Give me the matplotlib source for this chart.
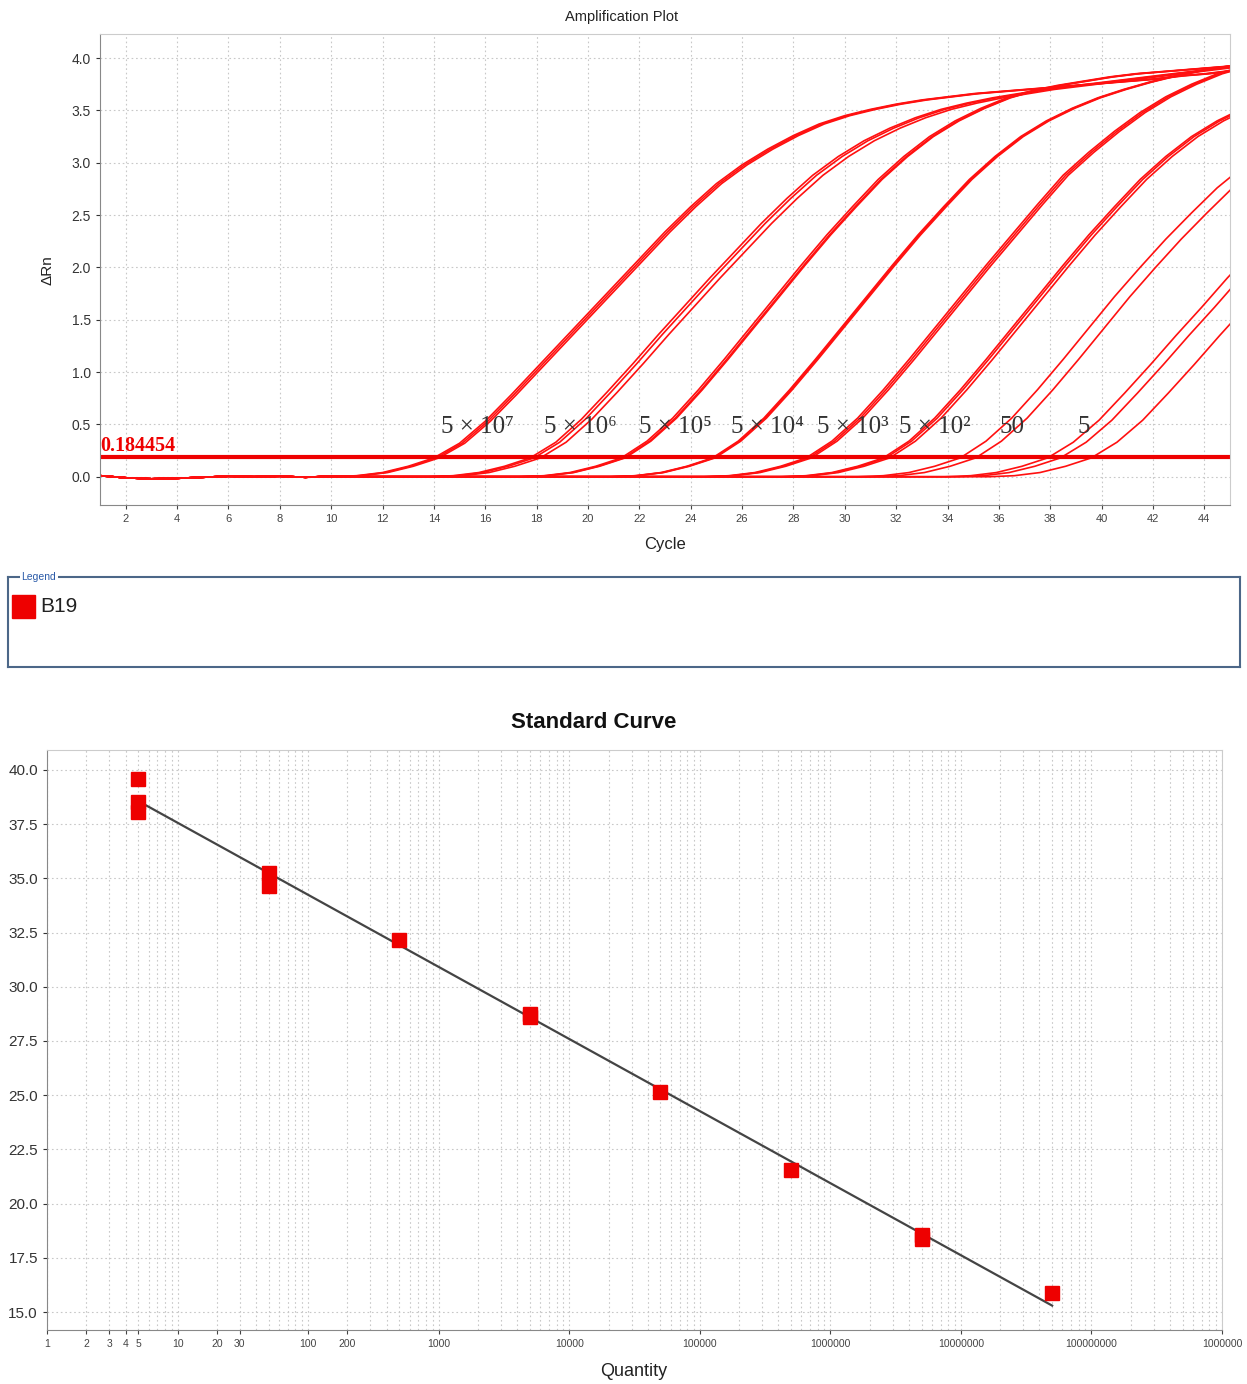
import matplotlib.pyplot as plt
import numpy as np
from matplotlib.patches import Rectangle

plt.rcParams['font.family'] = ['Liberation Sans', 'DejaVu Sans']

# ---- amplification plot data (ΔRn read per cycle) ----
baseline = [0.01, -0.01, -0.02, -0.015, -0.005, 0.005, 0.0, 0.005, -0.005, 0.005, 0.0, 0.0]  # cycles 1..12

group_labels = ['5 × 10⁷', '5 × 10⁶', '5 × 10⁵', '5 × 10⁴', '5 × 10³', '5 × 10²', '50', '5']
label_cycle = [15.7, 19.7, 23.4, 27.0, 30.3, 33.5, 36.5, 39.3]
group_start = [10, 13, 17, 20, 24, 27, 30, 33]  # first cycle of each rise list
group_shift = [[0.0, 0.1, 0.2], [0.75, 0.9, 1.15], [0.3, 0.4, 0.45], [0.85, 0.9, 0.95],
               [0.5, 0.6, 0.7], [0.5, 0.6, 0.75], [0.5, 1.1], [0.9, 1.4, 2.6]]

rise_5e7 = [0.00, 0.01, 0.04, 0.10, 0.18, 0.32, 0.53, 0.78, 1.04, 1.30, 1.56, 1.82, 2.08, 2.34,
            2.58, 2.80, 2.98, 3.13, 3.26, 3.37, 3.45, 3.51, 3.56, 3.60, 3.63, 3.66, 3.68, 3.70,
            3.72, 3.74, 3.76, 3.78, 3.80, 3.83, 3.85, 3.88]
rise_5e6 = [0.00, 0.01, 0.04, 0.10, 0.18, 0.33, 0.55, 0.81, 1.08, 1.36, 1.63, 1.90, 2.16, 2.42,
            2.66, 2.88, 3.06, 3.21, 3.33, 3.43, 3.51, 3.57, 3.62, 3.66, 3.70, 3.73, 3.76, 3.79,
            3.82, 3.85, 3.88, 3.91, 3.94]
rise_5e5 = [0.00, 0.01, 0.04, 0.10, 0.18, 0.34, 0.56, 0.83, 1.12, 1.42, 1.72, 2.02, 2.31, 2.58,
            2.84, 3.06, 3.25, 3.40, 3.52, 3.62, 3.69, 3.74, 3.78, 3.82, 3.85, 3.87, 3.89, 3.91, 3.93]
rise_5e4 = [0.00, 0.01, 0.04, 0.10, 0.18, 0.34, 0.56, 0.83, 1.12, 1.42, 1.72, 2.02, 2.31, 2.58,
            2.84, 3.06, 3.25, 3.40, 3.52, 3.62, 3.70, 3.77, 3.83, 3.88, 3.92, 3.95]
rise_5e3 = [0.00, 0.01, 0.04, 0.10, 0.18, 0.34, 0.56, 0.83, 1.12, 1.42, 1.72, 2.02, 2.31, 2.60,
            2.88, 3.10, 3.30, 3.48, 3.63, 3.75, 3.85, 3.92]
rise_5e2 = [0.00, 0.01, 0.04, 0.10, 0.18, 0.34, 0.56, 0.83, 1.12, 1.42, 1.72, 2.02, 2.31, 2.58,
            2.84, 3.06, 3.25, 3.40, 3.52]
rise_50 = [0.00, 0.01, 0.04, 0.10, 0.18, 0.34, 0.56, 0.83, 1.12, 1.42, 1.72, 2.00, 2.27, 2.52,
           2.76, 2.96]
rise_5 = [0.00, 0.01, 0.04, 0.10, 0.18, 0.33, 0.54, 0.80, 1.07, 1.35, 1.62, 1.90, 2.16]
rises = [rise_5e7, rise_5e6, rise_5e5, rise_5e4, rise_5e3, rise_5e2, rise_50, rise_5]

threshold = 0.184454

# ---- standard curve data ----
quantity = [5, 5, 5, 50, 50, 500, 5000, 5000, 5e4, 5e5, 5e6, 5e6, 5e7]
ct = [39.6, 38.5, 38.05, 35.25, 34.65, 32.15, 28.75, 28.6, 25.15, 21.55, 18.55, 18.35, 15.88]
qty_ticks = [1, 2, 3, 4, 5, 10, 20, 30, 100, 200, 1e3, 1e4, 1e5, 1e6, 1e7, 1e8, 1e9]
qty_labels = ['1', '2', '3', '4', '5', '10', '20', '30', '100', '200', '1000', '10000',
              '100000', '1000000', '10000000', '100000000', '1000000']

W, H = 1247, 1384
fig = plt.figure(figsize=(W / 100, H / 100), dpi=100)

grid_kw = dict(color='#c8c8c8', linestyle=(0, (1.5, 2.5)), linewidth=0.8)

# ================= Amplification plot =================
ax = fig.add_axes([100 / W, 1 - 505 / H, 1130 / W, 471 / H])
base_full = baseline + [0.0] * 33
for rise, start, shifts in zip(rises, group_start, group_shift):
    for s in shifts:
        x = np.concatenate([np.arange(1, start), np.arange(start, 46) + s])
        y = np.concatenate([base_full[:start - 1], rise])
        ax.plot(x, y, color='#ff1010', lw=1.2)

ax.axhline(threshold, color='#ee0000', lw=3)
ax.text(1.0, threshold + 0.015, '0.184454', color='#ee0000', fontsize=14.5, fontweight='bold',
        family=['Liberation Serif', 'DejaVu Serif'], va='bottom', ha='left')
for lab, c in zip(group_labels, label_cycle):
    ax.text(c, 0.48, lab, fontsize=18, color='#333333', ha='center', va='center',
            family=['Liberation Serif', 'DejaVu Serif'])

ax.set_xlim(1, 45)
ax.set_ylim(-0.27, 4.23)
ax.set_xticks(np.arange(2, 45, 2))
ax.set_yticks(np.arange(0, 4.01, 0.5))
ax.set_yticklabels([f'{v:.1f}' for v in np.arange(0, 4.01, 0.5)])
ax.tick_params(axis='x', labelsize=8, colors='#444444', length=3)
ax.tick_params(axis='y', labelsize=10, colors='#333333', length=3)
ax.grid(True, **grid_kw)
for side in ['left', 'bottom']:
    ax.spines[side].set_color('#888888')
for side in ['top', 'right']:
    ax.spines[side].set_color('#cccccc')

fig.text(622 / W, 1 - 17 / H, 'Amplification Plot', ha='center', va='center', fontsize=10.5,
         color='#222222')
fig.text(665 / W, 1 - 545 / H, 'Cycle', ha='center', va='center', fontsize=12, color='#222222')
fig.text(47 / W, 1 - 270 / H, 'ΔRn', ha='center', va='center', rotation=90, fontsize=11,
         color='#222222')

# ================= Legend box =================
lax = fig.add_axes([8 / W, 1 - 667 / H, 1232 / W, 90 / H])
lax.set_xlim(0, 1)
lax.set_ylim(0, 1)
lax.set_xticks([])
lax.set_yticks([])
for sp in lax.spines.values():
    sp.set_color('#4c6788')
    sp.set_linewidth(1.5)
lax.text(0.011, 1.0, 'Legend', transform=lax.transAxes, fontsize=7.5, color='#2a5aa8',
         va='center', ha='left', bbox=dict(facecolor='white', edgecolor='none', pad=1))
lax.add_patch(Rectangle((4 / 1232, 49 / 90), 23 / 1232, 23 / 90, color='#ee0000',
                        transform=lax.transAxes))
lax.text(32 / 1232, 60 / 90, 'B19', transform=lax.transAxes, fontsize=15, color='#222222',
         va='center', ha='left')

# ================= Standard curve =================
bx = fig.add_axes([47 / W, 1 - 1330 / H, 1175 / W, 580 / H])
bx.set_xscale('log')
logq = np.log10(quantity)
coef = np.polyfit(logq, ct, 1)
qline = np.array([min(quantity), max(quantity)])
bx.plot(qline, np.polyval(coef, np.log10(qline)), color='#444444', lw=1.6, zorder=3)
bx.plot(quantity, ct, 's', color='#ee0000', markersize=9.5, zorder=4)

bx.set_xlim(1, 1e9)
bx.set_ylim(14.17, 40.92)
minor = [m * 10 ** e for e in range(0, 9) for m in range(2, 10)]
bx.set_xticks(minor, minor=True)
bx.set_xticklabels([], minor=True)
bx.set_xticks(qty_ticks)
bx.set_xticklabels(qty_labels)
yt = np.arange(15, 40.01, 2.5)
bx.set_yticks(yt)
bx.set_yticklabels([f'{v:.1f}' for v in yt])
bx.tick_params(axis='x', which='major', labelsize=7.5, colors='#444444', length=3)
bx.tick_params(axis='x', which='minor', length=0)
bx.tick_params(axis='y', labelsize=11, colors='#333333', length=3)
bx.grid(True, which='both', **grid_kw)
for side in ['left', 'bottom']:
    bx.spines[side].set_color('#888888')
for side in ['top', 'right']:
    bx.spines[side].set_color('#cccccc')

fig.text(594 / W, 1 - 723 / H, 'Standard Curve', ha='center', va='center', fontsize=16,
         fontweight='bold', color='#111111')
fig.text(634 / W, 1 - 1372 / H, 'Quantity', ha='center', va='center', fontsize=13,
         color='#222222')

fig.savefig('out.png', dpi=100)
